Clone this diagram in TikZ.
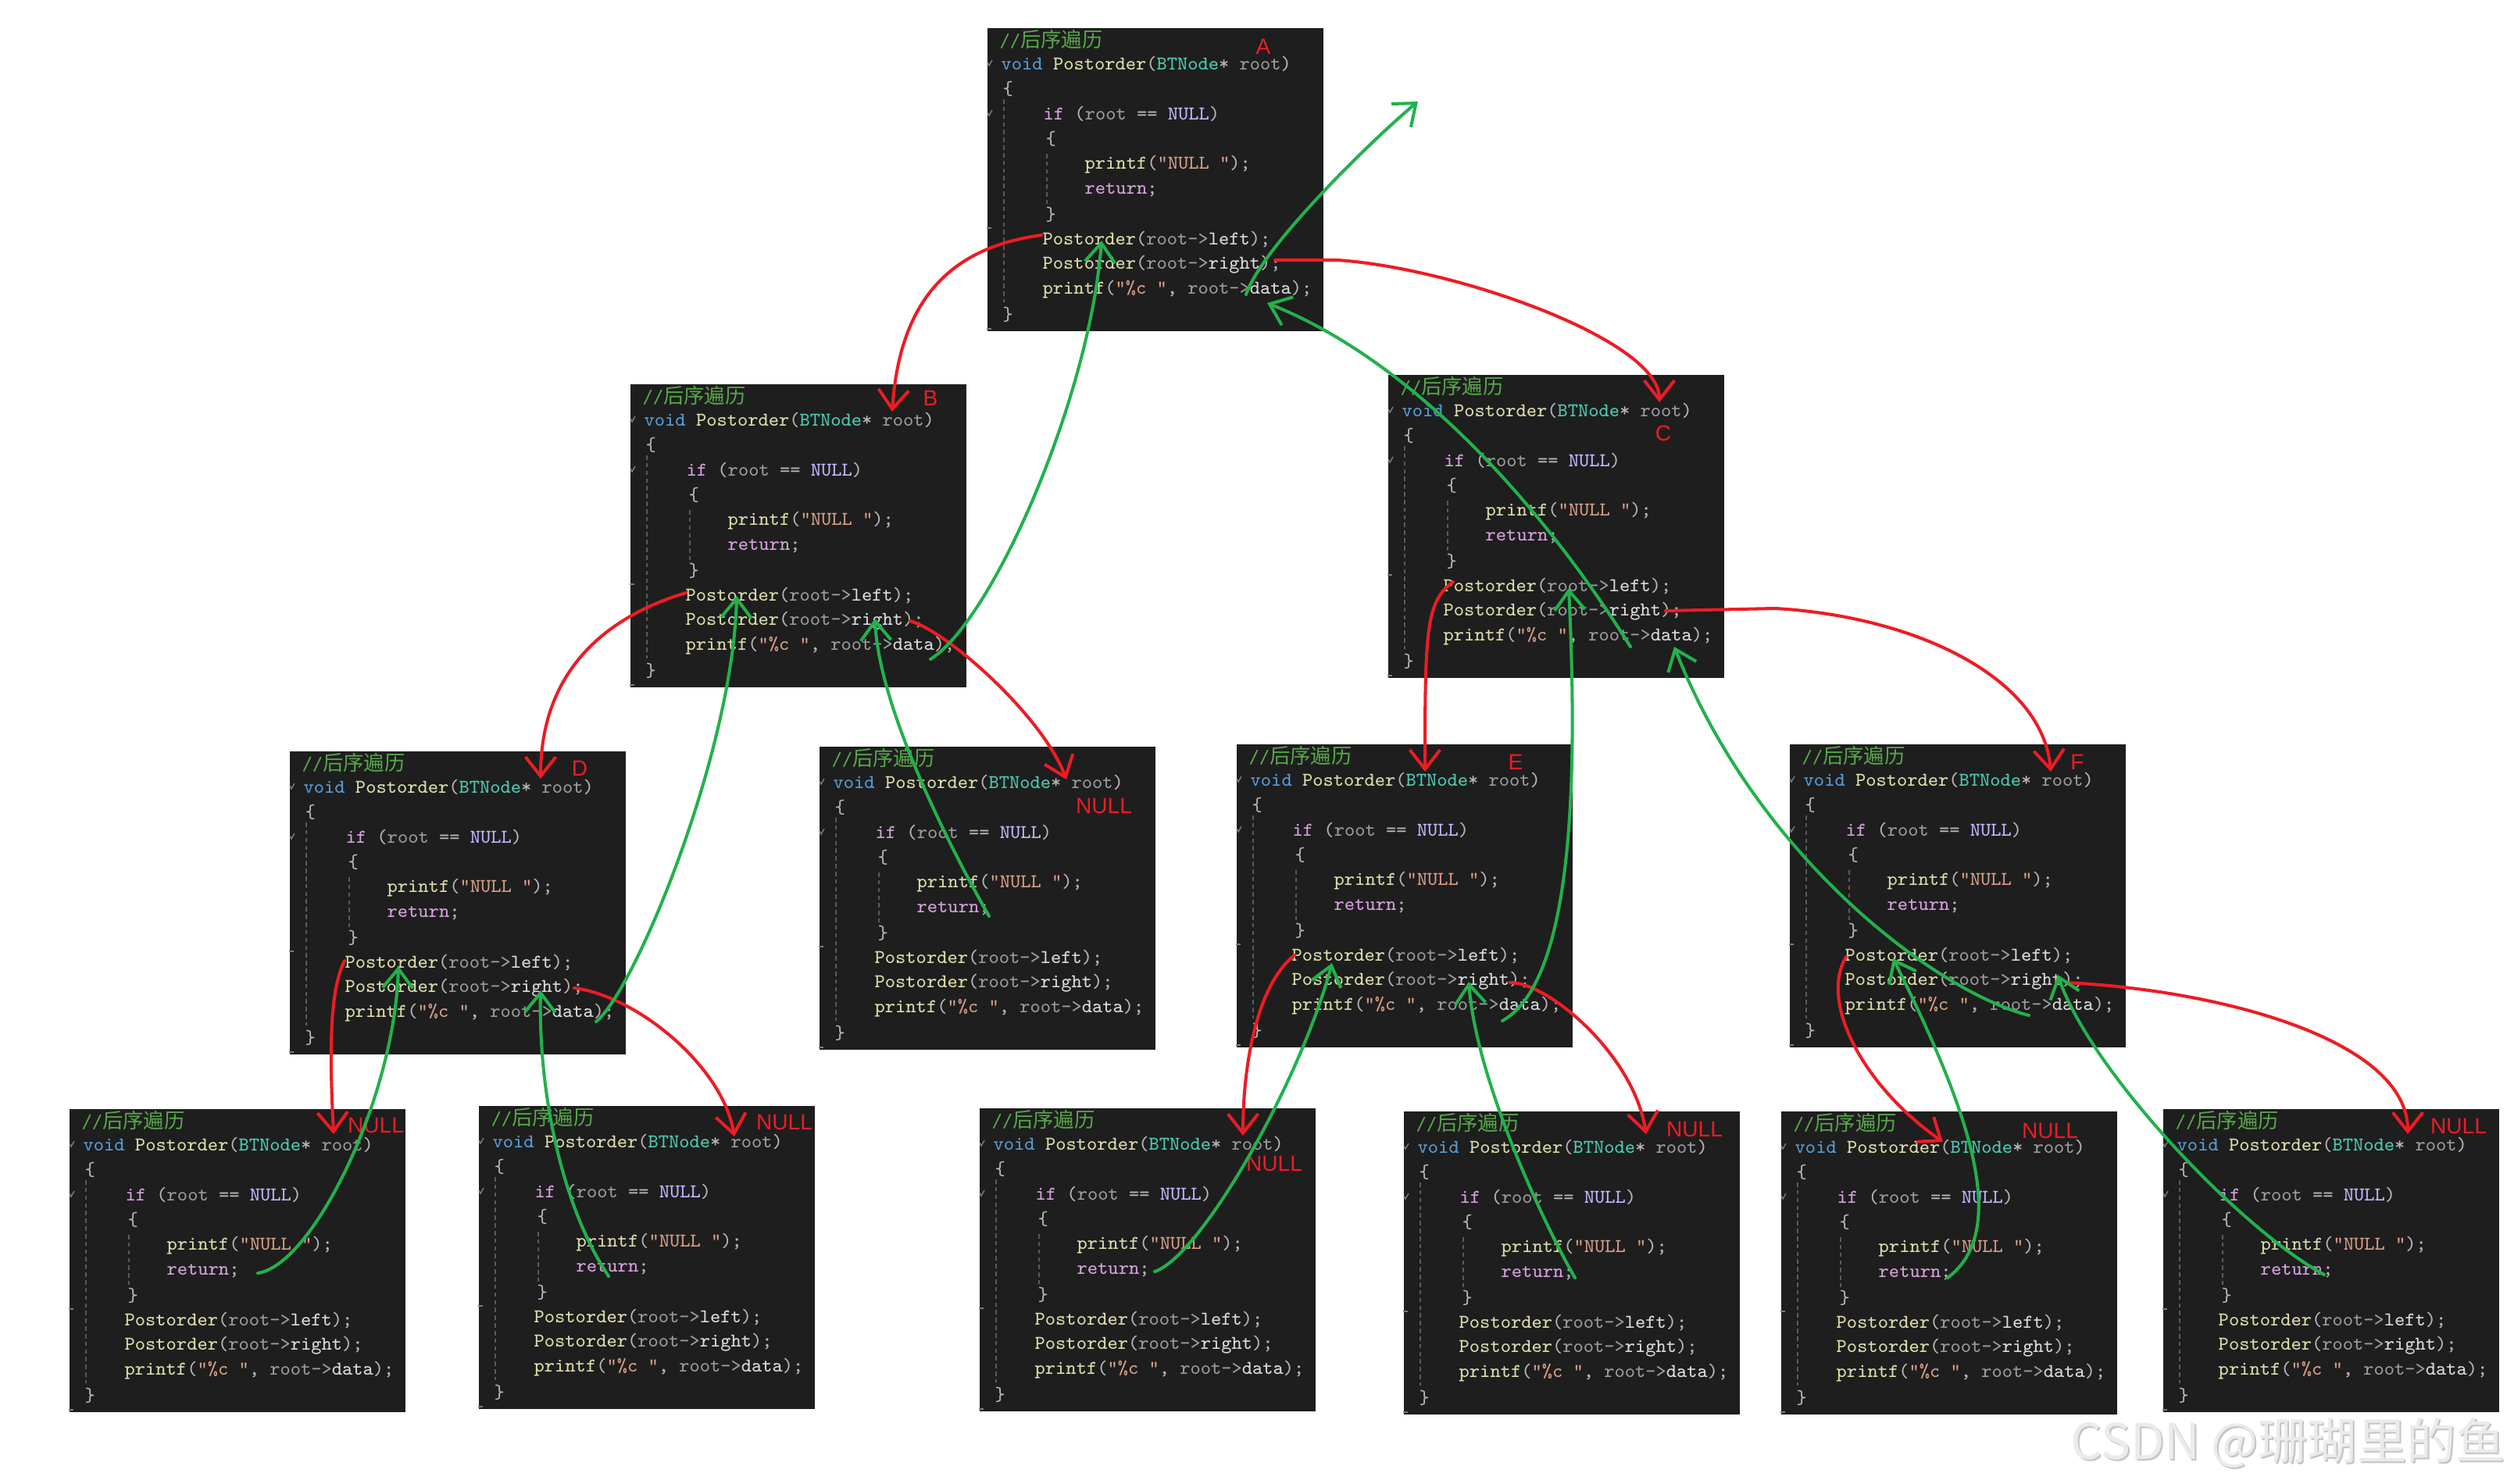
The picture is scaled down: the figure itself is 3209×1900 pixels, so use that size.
\documentclass[tikz,border=0pt]{standalone}
\usepackage{fontspec}
\usetikzlibrary{arrows.meta,calc}
\newfontfamily\cjk{Noto Sans CJK SC}
\newfontfamily\labfont{Liberation Sans}
\definecolor{cbg}{HTML}{1E1E1E}
\definecolor{ccom}{HTML}{57A64A}
\definecolor{ckw}{HTML}{569CD6}
\definecolor{cfn}{HTML}{DCDCAA}
\definecolor{ctype}{HTML}{4EC9B0}
\definecolor{cpar}{HTML}{9A9A9A}
\definecolor{cctl}{HTML}{D8A0DF}
\definecolor{cmac}{HTML}{BEB7FF}
\definecolor{cstr}{HTML}{D69D85}
\definecolor{cpun}{HTML}{B4B4B4}
\definecolor{cmem}{HTML}{DADADA}
\definecolor{cguide}{HTML}{5A5A5A}
\definecolor{pred}{HTML}{ED1C24}
\definecolor{pgreen}{HTML}{22B14C}
\definecolor{wmfill}{HTML}{EBEBEB}
\definecolor{wmshade}{HTML}{C4C4C4}
\tikzset{
  codebox/.style={fill=cbg, draw=none, minimum width=4.3cm, minimum height=3.88cm, anchor=north west, inner sep=0pt},
  cl/.style={anchor=west, inner sep=0pt, text=cmem, font=\ttfamily\fontsize{7.1}{8}\selectfont},
  guide/.style={draw=cguide, line width=0.35pt, dash pattern=on 1.6pt off 1.2pt},
  fold/.style={draw=cguide!80!white, line width=0.4pt},
  lab/.style={text=pred, inner sep=0pt, font=\labfont\fontsize{8}{9}\selectfont},
  call/.style={draw=pred, line width=1.15pt, line cap=round, line join=round, -{Straight Barb[length=7pt,width=11pt]}},
  ret/.style={draw=pgreen, line width=1.15pt, line cap=round, line join=round, -{Straight Barb[length=7pt,width=11pt]}},
  wm/.style={inner sep=0pt, font=\cjk\fontsize{18}{20}\selectfont}
}
\newcommand\codeblk[3]{%
  \node[codebox] (#1) at (#2,#3) {};
  \draw[guide] ($(#1.north west)+(22,92)$) -- ($(#1.north west)+(22,352)$);
  \draw[guide] ($(#1.north west)+(77,162)$) -- ($(#1.north west)+(77,226)$);
  \draw[fold] ($(#1.north west)+(1,45)$) -- ($(#1.north west)+(3,49)$) -- ($(#1.north west)+(7,42)$);
  \draw[fold] ($(#1.north west)+(1,109)$) -- ($(#1.north west)+(3,113)$) -- ($(#1.north west)+(7,106)$);
  \draw[fold] ($(#1.north west)+(0,257)$) -- ($(#1.north west)+(6,257)$);
  \draw[fold] ($(#1.north west)+(0,386)$) -- ($(#1.north west)+(6,386)$);
  \node[cl] (#1-t1) at ($(#1.north west)+(16,15)$) {\textcolor{ccom}{//{\cjk\fontsize{7.5}{8}\selectfont 后序遍历}}};
  \node[cl] (#1-t2) at ($(#1.north west)+(18,47)$) {\textcolor{ckw}{void} \textcolor{cfn}{Postorder}\textcolor{cpun}{(}\textcolor{ctype}{BTNode}\textcolor{cpun}{*} \textcolor{cpar}{root}\textcolor{cpun}{)}};
  \node[cl] (#1-t3) at ($(#1.north west)+(20,79)$) {\textcolor{cpun}{\{}};
  \node[cl] (#1-t4) at ($(#1.north west)+(72,111)$) {\textcolor{cctl}{if} \textcolor{cpun}{(}\textcolor{cpar}{root} \textcolor{cpun}{==} \textcolor{cmac}{NULL}\textcolor{cpun}{)}};
  \node[cl] (#1-t5) at ($(#1.north west)+(75,143)$) {\textcolor{cpun}{\{}};
  \node[cl] (#1-t6) at ($(#1.north west)+(125,176)$) {\textcolor{cfn}{printf}\textcolor{cpun}{(}\textcolor{cstr}{"NULL "}\textcolor{cpun}{);}};
  \node[cl] (#1-t7) at ($(#1.north west)+(125,208)$) {\textcolor{cctl}{return}\textcolor{cpun}{;}};
  \node[cl] (#1-t8) at ($(#1.north west)+(75,240)$) {\textcolor{cpun}{\}}};
  \node[cl] (#1-t9) at ($(#1.north west)+(71,272)$) {\textcolor{cfn}{Postorder}\textcolor{cpun}{(}\textcolor{cpar}{root->}\textcolor{cmem}{left}\textcolor{cpun}{);}};
  \node[cl] (#1-t10) at ($(#1.north west)+(71,304)$) {\textcolor{cfn}{Postorder}\textcolor{cpun}{(}\textcolor{cpar}{root->}\textcolor{cmem}{right}\textcolor{cpun}{);}};
  \node[cl] (#1-t11) at ($(#1.north west)+(71,336)$) {\textcolor{cfn}{printf}\textcolor{cpun}{(}\textcolor{cstr}{"\%c "}\textcolor{cpun}{,} \textcolor{cpar}{root->}\textcolor{cmem}{data}\textcolor{cpun}{);}};
  \node[cl] (#1-t12) at ($(#1.north west)+(20,368)$) {\textcolor{cpun}{\}}};
}
\newcommand\pt[3]{\coordinate (#1) at ($(#2.north west)+#3$);}
\begin{document}
\begin{tikzpicture}[x=0.01cm,y=-0.01cm]
\useasboundingbox (0,0) rectangle (3209,1900);
\fill[white] (0,0) rectangle (3209,1900);

% code boxes
\codeblk{A}{1263}{35}
\codeblk{B}{806}{491}
\codeblk{C}{1776}{479}
\codeblk{D}{370}{961}
\codeblk{BR}{1048}{955}
\codeblk{E}{1582}{952}
\codeblk{F}{2290}{952}
\codeblk{DL}{88}{1419}
\codeblk{DR}{612}{1415}
\codeblk{EL}{1253}{1418}
\codeblk{ER}{1796}{1422}
\codeblk{FL}{2279}{1422}
\codeblk{FR}{2768}{1419}

% attachment points
\pt{A-cl}{A}{(70,266)}  \pt{A-cr}{A}{(369,298)} \pt{A-gl}{A}{(147,273)}
\pt{A-gd}{A}{(359,353)} \pt{A-data}{A}{(332,342)}
\pt{B-in}{B}{(336,36)}  \pt{B-cl}{B}{(72,268)}  \pt{B-cr}{B}{(359,304)}
\pt{B-gl}{B}{(137,272)} \pt{B-gr}{B}{(314,301)} \pt{B-data}{B}{(385,353)}
\pt{C-in}{C}{(348,36)}  \pt{C-cl}{C}{(84,266)}  \pt{C-cr}{C}{(356,303)}
\pt{C-gl}{C}{(232,274)} \pt{C-gd}{C}{(367,349)} \pt{C-data}{C}{(311,349)}
\pt{D-in}{D}{(322,36)}  \pt{D-cl}{D}{(71,269)}  \pt{D-cr}{D}{(365,304)}
\pt{D-gl}{D}{(140,276)} \pt{D-gr}{D}{(322,307)} \pt{D-data}{D}{(393,347)}
\pt{BR-in}{BR}{(317,43)} \pt{BR-ret}{BR}{(218,218)}
\pt{E-in}{E}{(242,36)}  \pt{E-cl}{E}{(75,271)}  \pt{E-cr}{E}{(351,306)}
\pt{E-gl}{E}{(123,281)} \pt{E-gr}{E}{(298,305)} \pt{E-data}{E}{(341,355)}
\pt{F-in}{F}{(335,36)}  \pt{F-cl}{F}{(73,273)}  \pt{F-cr}{F}{(355,306)}
\pt{F-gl}{F}{(133,275)} \pt{F-gr}{F}{(344,296)} \pt{F-data}{F}{(307,348)}
\pt{DL-in}{DL}{(339,33)} \pt{DL-ret}{DL}{(242,211)}
\pt{DR-in}{DR}{(328,40)} \pt{DR-ret}{DR}{(167,219)}
\pt{EL-in}{EL}{(338,36)} \pt{EL-ret}{EL}{(225,210)}
\pt{ER-in}{ER}{(311,30)} \pt{ER-ret}{ER}{(220,214)}
\pt{FL-in}{FL}{(208,40)} \pt{FL-ret}{FL}{(214,214)}
\pt{FR-in}{FR}{(314,33)} \pt{FR-ret}{FR}{(207,213)}
\coordinate (top) at (1815,130);

% labels
\node[lab] (lA) at (1617,60) {A};
\node[lab] (lB) at (1191,510) {B};
\node[lab] (lC) at (2129,555) {C};
\node[lab] (lD) at (742,984) {D};
\node[lab] (lBR) at (1413,1032) {NULL};
\node[lab] (lE) at (1940,976) {E};
\node[lab] (lF) at (2659,976) {F};
\node[lab] (lDL) at (481,1441) {NULL};
\node[lab] (lDR) at (1004,1437) {NULL};
\node[lab] (lEL) at (1631,1490) {NULL};
\node[lab] (lER) at (2169,1446) {NULL};
\node[lab] (lFL) at (2624,1448) {NULL};
\node[lab] (lFR) at (3147,1442) {NULL};

% calls (red)
\draw[call] (A-cl) .. controls +(-110,15) and +(10,-150) .. (B-in);
\draw[call] (A-cr) -- +(80,0) .. controls +(150,10) and +(0,-80) .. (C-in);
\draw[call] (B-cl) .. controls +(-100,30) and +(0,-140) .. (D-in);
\draw[call] (B-cr) .. controls +(50,15) and +(-30,-80) .. (BR-in);
\draw[call] (C-cl) .. controls +(-35,25) and +(0,-180) .. (E-in);
\draw[call] (C-cr) -- +(140,-3) .. controls +(180,10) and +(-10,-120) .. (F-in);
\draw[call] (D-cl) .. controls +(-20,40) and +(-5,-100) .. (DL-in);
\draw[call] (D-cr) .. controls +(80,10) and +(-15,-90) .. (DR-in);
\draw[call] (E-cl) .. controls +(-45,35) and +(0,-100) .. (EL-in);
\draw[call] (E-cr) .. controls +(50,0) and +(-15,-100) .. (ER-in);
\draw[call] (F-cl) .. controls +(-35,60) and +(-100,-70) .. (FL-in);
\draw[call] (F-cr) .. controls +(200,10) and +(0,-120) .. (FR-in);

% returns (green)
\draw[ret] (DL-ret) .. controls +(70,-10) and +(-5,170) .. (D-gl);
\draw[ret] (D-data) .. controls +(50,-40) and +(-5,200) .. (B-gl);
\draw[ret] (DR-ret) .. controls +(-60,-90) and +(-3,130) .. (D-gr);
\draw[ret] (B-data) .. controls +(80,-50) and +(-15,200) .. (A-gl);
\draw[ret] (BR-ret) .. controls +(-40,-70) and +(5,120) .. (B-gr);
\draw[ret] (A-data) .. controls +(20,-60) and +(-60,50) .. (top);
\draw[ret] (C-data) .. controls +(-100,-160) and +(200,80) .. (A-gd);
\draw[ret] (E-data) .. controls +(90,-50) and +(12,250) .. (C-gl);
\draw[ret] (F-data) .. controls +(-117,-30) and +(107,272) .. (C-gd);
\draw[ret] (EL-ret) .. controls +(60,-20) and +(-40,150) .. (E-gl);
\draw[ret] (ER-ret) .. controls +(-35,-60) and +(10,130) .. (E-gr);
\draw[ret] (FL-ret) .. controls +(80,-60) and +(100,200) .. (F-gl);
\draw[ret] (FR-ret) .. controls +(-110,-60) and +(40,120) .. (F-gr);

% watermark
\node[wm, text=wmshade] (wm-shadow) at (2931,1849) {CSDN @珊瑚里的鱼};
\node[wm, text=wmfill] (wm) at (2929,1847) {CSDN @珊瑚里的鱼};
\end{tikzpicture}
\end{document}
